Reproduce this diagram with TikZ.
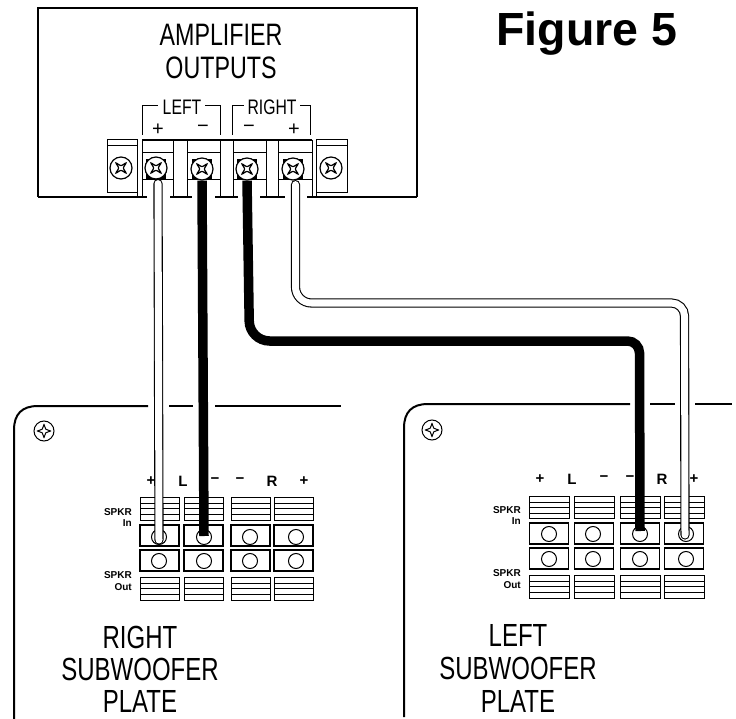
\documentclass[tikz,border=0pt]{standalone}
\usepackage{fontspec}
\setmainfont{Liberation Sans}
\newfontfamily\narrowfont[FakeStretch=0.75]{Liberation Sans}
\tikzset{
  wireblack/.style={line width=9.5pt,black},
  wirewhite/.style={line width=1.1pt,double=white,double distance=7pt,line cap=round},
  title/.style={inner sep=0pt,font=\narrowfont\fontsize{31}{31}\selectfont},
  platetitle/.style={inner sep=0pt,font=\narrowfont\fontsize{32}{32}\selectfont},
  sidelabel/.style={inner sep=0pt,font=\narrowfont\fontsize{21}{21}\selectfont},
  signlabel/.style={inner sep=0pt,font=\fontsize{20}{20}\selectfont},
  platelabel/.style={inner sep=0pt,font=\bfseries\fontsize{15}{15}\selectfont},
  spkrlabel/.style={inner sep=0pt,anchor=east,font=\bfseries\fontsize{10}{10}\selectfont},
  terminal/.style={draw,line width=1.1pt,fill=white,inner sep=0pt,minimum width=39pt,minimum height=21pt},
  hole/.style={draw,circle,line width=1pt,fill=white,inner sep=0pt,minimum size=15pt},
  ampscrew/.style={draw,circle,line width=1.2pt,fill=white,inner sep=0pt,minimum size=22pt,
    path picture={\draw[line width=1.2pt,shift={(path picture bounding box.center)}]
      plot[smooth cycle] coordinates {(2.4,0)(5,5)(0,2.4)(-5,5)(-2.4,0)(-5,-5)(0,-2.4)(5,-5)};}},
  platescrew/.style={draw,circle,line width=1pt,fill=white,inner sep=0pt,minimum size=20pt,
    path picture={\draw[line width=1pt,shift={(path picture bounding box.center)}]
      plot[smooth cycle] coordinates {(6.5,0)(1.8,1.8)(0,6.5)(-1.8,1.8)(-6.5,0)(-1.8,-1.8)(0,-6.5)(1.8,-1.8)};}},
}
\begin{document}
\begin{tikzpicture}[x=1pt,y=-1pt]
\useasboundingbox (0,0) rectangle (736,719);
% amplifier
\draw[line width=2pt] (38,197) -- (38,8) -- (417,8) -- (417,197);
\foreach \xa/\xb in {38/147,170/192,215/238,260/285,307/417}
    \draw[line width=2pt] (\xa,197) -- (\xb,197);
\node[title] (amplifier) at (221,35) {AMPLIFIER};
\node[title] (outputs) at (221,68) {OUTPUTS};
\node[inner sep=0pt,font=\bfseries\fontsize{46.5}{46.5}\selectfont] (figure) at (587,34) {Figure 5};
% brackets
\draw[line width=1pt] (142,135) -- (142,106) -- (158,106);
\draw[line width=1pt] (205,106) -- (220,106) -- (220,135);
\draw[line width=1pt] (232,135) -- (232,106) -- (244,106);
\draw[line width=1pt] (300,106) -- (310,106) -- (310,135);
\node[sidelabel] (left) at (182,107) {LEFT};
\node[sidelabel] (right) at (272,107) {RIGHT};
\node[signlabel] (ampsign1) at (158,130) {+};
\node[signlabel] (ampsign2) at (203,129) {−};
\node[signlabel] (ampsign3) at (249,129) {−};
\node[signlabel] (ampsign4) at (294,130) {+};
% terminal block
\draw[line width=1.5pt] (142,140) -- (312,140);
\draw[line width=1pt] (107,140) rectangle (137,193);
\draw[line width=1pt] (316,140) rectangle (347,193);
\draw[line width=.8pt] (107,145) -- (137,145) (316,145) -- (347,145);
\draw[line width=1pt] (137,140) -- (137,197) (142,140) -- (142,197) (312,140) -- (312,197) (316,140) -- (316,197);
\foreach \xa/\xb in {173/187,220/233,266/278}
    \draw[line width=1pt] (\xa,140) -- (\xa,197) (\xb,140) -- (\xb,197);
\foreach \xa/\xb in {142/173,187/220,233/266,278/312}
    \draw[line width=1pt] (\xa,153) -- (\xb,153) (\xa,180) -- (\xb,180);
\foreach \x in {156,202,247,293}
    \fill (\x-10,159) rectangle (\x+10,179);
\node[ampscrew] (ampend1) at (121,168) {};
\node[ampscrew] (ampend2) at (331,168) {};
\node[ampscrew] (ampLP) at (156,168) {};
\node[ampscrew] (ampLM) at (202,169) {};
\node[ampscrew] (ampRM) at (247,169) {};
\node[ampscrew] (ampRP) at (293,169) {};
% right plate
\draw[line width=2pt] (14,719) -- (14,430) .. controls (14,414) and (22,406) .. (38,406) -- (148,406);
\draw[line width=2pt] (169,406) -- (193,406) (215,406) -- (341,406);
\node[platescrew] (screwR) at (44,431) {};
\foreach \col/\colx/\holex in {1/140/159,2/184/204,3/231/250,4/274/296}{
    \draw[line width=1pt] (\colx,497) rectangle +(39,23);
    \draw[line width=1pt] (\colx,577) rectangle +(39,23);
    \foreach \dy in {6,11,17}
        \draw[line width=.8pt] (\colx,497+\dy) -- +(39,0) (\colx,577+\dy) -- +(39,0);
    \node[terminal] (rinbox\col) at (\colx+19.5,535.5) {};
    \node[terminal] (routbox\col) at (\colx+19.5,560.5) {};
    \node[hole] (rin\col) at (\holex,537) {};
    \node[hole] (rout\col) at (\holex,561) {};
}
\foreach \txt/\x [count=\i] in {+/151,L/183,−/215,−/240,R/272,+/304}
    \node[platelabel] (rlabel\i) at (\x,481) {\txt};
\node[spkrlabel] (rspkrin) at (132,512) {SPKR};
\node[spkrlabel] (rin) at (132,523) {In};
\node[spkrlabel] (rspkrout) at (132,575) {SPKR};
\node[spkrlabel] (rout) at (132,587) {Out};
\node[platetitle] (rtitle1) at (140,637) {RIGHT};
\node[platetitle] (rtitle2) at (140,669) {SUBWOOFER};
\node[platetitle] (rtitle3) at (140,701) {PLATE};
% left plate
\draw[line width=2pt] (404,717) -- (404,428) .. controls (404,412) and (412,404) .. (428,404) -- (630,404);
\draw[line width=2pt] (650,404) -- (675,404) (695,404) -- (732,404);
\node[platescrew] (screwL) at (432,430) {};
\foreach \col/\colx/\holex in {1/529/549,2/574/593,3/620/640,4/664/686}{
    \draw[line width=1pt] (\colx,496) rectangle +(40,22);
    \draw[line width=1pt] (\colx,575) rectangle +(40,23);
    \foreach \dy in {6,11,17}
        \draw[line width=.8pt] (\colx,496+\dy) -- +(40,0) (\colx,575+\dy) -- +(40,0);
    \node[terminal] (linbox\col) at (\colx+20,533.5) {};
    \node[terminal] (loutbox\col) at (\colx+20,558.5) {};
    \node[hole] (lin\col) at (\holex,534) {};
    \node[hole] (lout\col) at (\holex,559) {};
}
\foreach \txt/\x [count=\i] in {+/540,L/572,−/604,−/630,R/662,+/694}
    \node[platelabel] (llabel\i) at (\x,479) {\txt};
\node[spkrlabel] (lspkrin) at (521,510) {SPKR};
\node[spkrlabel] (lin) at (521,521) {In};
\node[spkrlabel] (lspkrout) at (521,573) {SPKR};
\node[spkrlabel] (lout) at (521,585) {Out};
\node[platetitle] (ltitle1) at (518,635) {LEFT};
\node[platetitle] (ltitle2) at (518,668) {SUBWOOFER};
\node[platetitle] (ltitle3) at (518,701) {PLATE};
% wires
\coordinate (blackA) at (249.5,341);
\coordinate (blackB) at (639.5,341);
\coordinate (whiteA) at (295.5,303);
\coordinate (whiteB) at (684.5,303);
\draw[wirewhite] ([shift={(2,4)}]ampLP.south) -- ([yshift=-3pt]rin1.center);
\draw[wireblack] (ampLM.south) -- ([yshift=1pt]rin2.center);
\draw[wireblack,rounded corners=20pt] (ampRM.south) -- (blackA) [rounded corners=12pt] -- (blackB) -- ([yshift=3pt]lin3.center);
\draw[wirewhite,rounded corners=16pt] ([shift={(2.5,4)}]ampRP.south) -- (whiteA) [rounded corners=13pt] -- (whiteB) -- ([xshift=-1pt,yshift=-1pt]lin4.center);
\end{tikzpicture}
\end{document}
